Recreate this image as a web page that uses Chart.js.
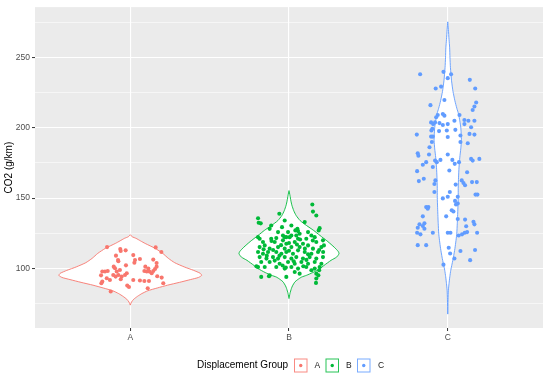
<!DOCTYPE html>
<html>
<head>
<meta charset="utf-8">
<script src="https://cdn.jsdelivr.net/npm/chart.js@4.4.1/dist/chart.umd.min.js"></script>
<style>
  html, body { margin: 0; padding: 0; background: #fff; }
  #wrap { width: 550px; height: 381px; }
</style>
</head>
<body>
<div id="wrap"><canvas id="chart" width="550" height="381"></canvas></div>
<script>
const groups = ["A", "B", "C"];
const groupColors = ["#F8766D", "#00BA38", "#619CFF"];
const yTicks = [75, 100, 125, 150, 175, 200, 225, 250, 275];

// jittered points: [offset from group centre, CO2 g/km]
const pointsA = [
  [-0.146,115.1],[-0.063,113.7],[-0.060,112.3],[-0.029,112.8],[0.160,114.9],[0.196,111.6],
  [-0.090,109.0],[-0.077,105.9],[-0.075,105.0],[0.019,109.4],[0.030,105.9],[0.026,104.0],
  [0.061,106.6],[0.145,106.2],[0.166,103.8],[-0.104,101.2],[-0.027,102.1],[0.095,101.2],
  [0.114,99.8],[0.156,99.5],[0.166,101.2],[-0.176,97.7],[-0.159,97.7],[-0.142,98.1],
  [-0.096,100.0],[-0.085,97.7],[-0.065,98.8],[-0.107,95.2],[-0.092,94.1],[-0.075,95.2],
  [-0.054,94.1],[-0.060,92.2],[-0.033,95.2],[-0.022,96.5],[-0.128,91.7],[-0.148,92.9],
  [-0.176,90.6],[-0.182,89.4],[0.019,91.7],[0.061,91.3],[0.089,91.0],[0.118,91.0],
  [0.089,98.1],[0.104,97.7],[0.120,97.7],[0.135,96.5],[0.145,98.1],[0.198,93.4],
  [0.208,89.4],[-0.019,87.7],[-0.008,86.7],[-0.123,83.5],[0.110,85.8],[0.170,94.3],
  [-0.184,95.0]
];
const pointsB = [
  [-0.195,135.7],[-0.191,132.4],[-0.178,132.0],[-0.061,138.8],[-0.027,134.0],[0.147,145.4],
  [0.151,140.4],[0.172,137.6],[0.099,132.9],[-0.112,130.5],[-0.122,128.1],[-0.044,129.3],
  [0.015,130.5],[0.053,128.1],[0.057,126.5],[0.040,127.0],[-0.006,125.8],[-0.069,125.8],
  [-0.038,123.4],[-0.017,122.2],[0.015,123.4],[0.046,123.4],[0.067,124.6],[0.120,125.8],
  [0.141,123.4],[0.193,128.6],[0.187,127.0],[-0.185,121.0],[-0.112,121.0],[-0.080,121.5],
  [-0.195,122.2],[-0.027,122.2],[0.004,122.2],[0.057,121.0],[0.109,121.0],[0.162,122.2],
  [-0.164,118.7],[-0.090,118.7],[-0.038,119.9],[-0.017,117.5],[0.036,118.7],[0.088,117.5],
  [0.172,118.7],[0.214,119.9],[-0.185,115.1],[-0.153,116.3],[-0.122,114.0],[-0.069,115.1],
  [-0.027,114.0],[0.015,115.1],[0.067,115.1],[0.120,116.3],[0.151,114.0],[0.204,115.1],
  [0.220,116.3],[-0.195,111.6],[-0.164,110.4],[-0.132,111.6],[-0.080,111.6],[-0.048,110.4],
  [-0.017,111.6],[0.025,110.4],[0.057,112.8],[0.099,111.6],[0.141,110.4],[0.183,111.6],
  [0.215,111.6],[-0.185,108.0],[-0.142,106.9],[-0.101,108.0],[-0.069,106.9],[-0.027,108.0],
  [0.015,106.9],[0.046,108.0],[0.088,106.9],[0.130,108.0],[0.172,106.9],[0.214,108.0],
  [-0.175,104.5],[-0.122,104.5],[-0.059,103.3],[-0.006,104.5],[0.036,103.3],[0.078,104.5],
  [0.120,103.3],[0.162,104.5],[0.204,103.3],[-0.195,100.9],[-0.153,100.9],[-0.080,100.9],
  [-0.027,99.8],[0.015,100.9],[0.057,99.8],[0.109,100.9],[0.162,99.8],[0.193,100.9],
  [0.036,97.4],[0.067,96.2],[0.141,98.6],[0.172,96.2],[-0.175,93.9],[-0.122,95.0],
  [-0.017,93.9],[0.172,92.7],[-0.126,94.3],[0.170,89.6],[0.185,95.0],[0.190,98.6],
  [-0.205,101.4],[-0.100,113.0],[-0.050,116.5],[0.000,112.5],[0.050,117.0],[0.100,114.0],
  [0.120,110.0],[-0.140,109.0],[-0.090,105.5],[0.030,105.0],[0.090,101.5],[-0.040,102.0],
  [0.000,118.0],[0.070,120.5],[-0.110,119.5],[0.150,119.8],[-0.060,109.0],[0.110,106.0],
  [-0.160,113.5],[0.190,113.0],[-0.020,100.5]
];
const pointsC = [
  [-0.174,238.2],[-0.027,239.9],[0.021,238.2],[0.000,235.4],[0.139,234.2],[-0.042,229.4],
  [-0.076,228.0],[0.173,228.0],[-0.021,219.8],[-0.109,216.2],[0.179,218.1],[0.168,215.2],
  [0.157,212.7],[-0.031,209.9],[-0.021,208.7],[-0.063,209.2],[-0.073,207.6],[0.074,209.2],
  [-0.105,203.9],[-0.092,202.7],[-0.080,203.9],[-0.052,203.4],[-0.031,202.0],[0.000,202.7],
  [0.042,205.1],[0.105,205.6],[0.130,205.1],[0.105,202.7],[0.168,205.1],[0.147,200.4],
  [-0.097,199.3],[-0.103,198.1],[-0.055,197.7],[-0.006,198.1],[0.048,198.6],[-0.195,195.2],
  [0.137,195.7],[0.168,195.2],[-0.105,193.8],[-0.094,193.8],[0.000,193.5],[0.080,194.6],
  [0.080,189.9],[0.126,189.0],[-0.100,189.9],[-0.115,186.2],[-0.189,181.9],[-0.185,180.2],
  [-0.118,181.0],[0.000,181.0],[-0.046,177.2],[0.029,177.2],[0.044,174.4],[0.147,177.9],
  [0.157,176.7],[0.199,177.9],[-0.157,173.7],[-0.136,175.6],[-0.094,172.1],[-0.069,175.6],
  [-0.080,176.7],[0.071,175.6],[0.010,169.6],[-0.193,169.2],[0.122,168.4],[-0.151,163.8],
  [-0.182,162.1],[-0.078,162.6],[-0.084,160.0],[0.088,162.6],[0.099,160.7],[0.109,159.1],
  [0.153,161.4],[0.183,161.4],[0.050,159.6],[-0.084,154.3],[0.013,154.3],[0.175,152.5],
  [0.187,152.5],[-0.031,149.8],[0.000,151.0],[0.063,151.0],[-0.136,143.6],[-0.122,143.6],
  [-0.126,142.5],[0.046,148.0],[0.063,146.2],[0.052,145.4],[0.025,141.3],[0.036,140.5],
  [-0.157,137.0],[-0.010,137.0],[0.063,135.1],[0.109,134.7],[0.116,130.0],[0.162,133.1],
  [0.168,131.3],[-0.178,131.3],[-0.157,130.1],[-0.147,132.0],[-0.189,128.9],[-0.193,125.3],
  [-0.172,124.2],[-0.147,128.2],[-0.094,125.3],[0.000,125.3],[0.017,125.3],[0.069,123.4],
  [0.090,124.2],[0.107,125.3],[0.122,125.8],[0.185,125.3],[-0.189,116.5],[-0.136,116.5],
  [0.006,114.6],[0.015,110.6],[0.080,112.3],[0.172,113.0],[0.042,107.0],[0.141,105.8],
  [-0.027,102.6]
];

// violin outlines: [CO2 g/km, half width in group units]
const violinA = [
  [73.8,0],[76,0.008],[78,0.022],[80,0.045],[82,0.073],[84,0.11],[86,0.17],[88,0.235],
  [90,0.31],[92,0.38],[93.5,0.43],[95,0.45],[96.5,0.44],[98.5,0.40],[101,0.34],[104,0.28],
  [107.1,0.24],[110.6,0.205],[114.2,0.157],[117.7,0.094],[119.5,0.065],[121.3,0.037],
  [122.5,0.012],[123.9,0]
];
const violinB = [
  [78.5,0],[82,0.006],[85.6,0.015],[87.5,0.022],[90.3,0.037],[92,0.055],[93.8,0.08],
  [95,0.11],[97,0.15],[99.8,0.195],[102,0.22],[105.7,0.265],[108,0.30],[110.4,0.315],
  [112,0.31],[115,0.285],[119,0.245],[123.4,0.195],[127,0.155],[130.5,0.11],[134,0.07],
  [137.6,0.045],[141,0.03],[145,0.018],[148,0.012],[152,0.006],[155.3,0]
];
const violinC = [
  [67.4,0],[78,0.002],[84.4,0.004],[89.1,0.008],[94,0.013],[98.6,0.019],[103,0.027],
  [108,0.036],[114,0.045],[119.9,0.052],[125,0.057],[131.7,0.060],[137,0.062],[143.5,0.064],
  [150.7,0.066],[157,0.066],[164.9,0.068],[172,0.071],[179.1,0.076],[185,0.082],[191,0.086],
  [195,0.085],[200.4,0.082],[205,0.076],[209.9,0.068],[214,0.057],[219.3,0.045],[226,0.033],
  [233.5,0.024],[242.9,0.017],[250,0.014],[257,0.012],[263,0.008],[270,0.004],[275.5,0]
];

const allPoints = [pointsA, pointsB, pointsC];
const allViolins = [violinA, violinB, violinC];

function violinOutline(profile, centre) {
  const right = profile.map(([y, w]) => ({ x: centre + w, y }));
  const left = profile.slice().reverse().map(([y, w]) => ({ x: centre - w, y }));
  return right.concat(left);
}

const FONT = '"Liberation Sans", Arial, sans-serif';
Chart.defaults.font.family = FONT;

const datasets = [];
groups.forEach((g, i) => {
  datasets.push({
    label: "violin " + g,
    data: violinOutline(allViolins[i], i + 1),
    showLine: true,
    borderColor: groupColors[i],
    borderWidth: 0.9,
    backgroundColor: "#ffffff",
    fill: "shape",
    tension: 0.2,
    pointRadius: 0,
    order: 2,
  });
});
groups.forEach((g, i) => {
  datasets.push({
    label: g,
    data: allPoints[i].map(([dx, y]) => ({ x: i + 1 + dx, y })),
    showLine: false,
    pointRadius: 2.05,
    pointBackgroundColor: groupColors[i],
    pointBorderWidth: 0,
    order: 0,
  });
});

const panelBackground = {
  id: "panelBackground",
  beforeDraw(chart) {
    const { ctx, chartArea } = chart;
    ctx.save();
    ctx.fillStyle = "#ffffff";
    ctx.fillRect(0, 0, chart.width, chart.height);
    ctx.fillStyle = "#EBEBEB";
    ctx.fillRect(chartArea.left, chartArea.top, chartArea.right - chartArea.left, chartArea.bottom - chartArea.top);
    ctx.restore();
  },
};

// ggplot-style legend: title on the left, keys in a row
const ggLegend = {
  id: "ggLegend",
  afterDraw(chart) {
    const ctx = chart.ctx;
    const y = 365.5;
    ctx.save();
    ctx.textBaseline = "middle";
    ctx.fillStyle = "#000000";
    ctx.font = "10px " + FONT;
    ctx.fillText("Displacement Group", 197, y);
    const boxX = [294, 325.5, 357];
    const labelX = [314.5, 346, 378];
    groups.forEach((g, i) => {
      ctx.strokeStyle = groupColors[i];
      ctx.globalAlpha = 0.85;
      ctx.lineWidth = 1;
      ctx.fillStyle = "#ffffff";
      ctx.fillRect(boxX[i], y - 6.5, 13, 13);
      ctx.strokeRect(boxX[i] + 0.5, y - 6.5, 12.5, 13);
      ctx.globalAlpha = 1;
      ctx.fillStyle = groupColors[i];
      ctx.beginPath();
      ctx.arc(boxX[i] + 6.75, y, 1.7, 0, Math.PI * 2);
      ctx.fill();
      ctx.fillStyle = "#1a1a1a";
      ctx.font = "8.5px " + FONT;
      ctx.fillText(g, labelX[i], y);
    });
    ctx.restore();
  },
};

new Chart(document.getElementById("chart"), {
  type: "scatter",
  data: { datasets },
  plugins: [panelBackground, ggLegend],
  options: {
    responsive: false,
    animation: false,
    layout: { padding: { left: 0, right: 7, top: 6, bottom: 35 } },
    plugins: {
      legend: { display: false },
      tooltip: { enabled: false },
    },
    scales: {
      x: {
        type: "linear",
        min: 0.4,
        max: 3.6,
        afterBuildTicks: (scale) => {
          scale.ticks = groups.map((g, i) => ({ value: i + 1 }));
        },
        afterFit: (scale) => { scale.height = 18; },
        ticks: {
          color: "#4D4D4D",
          font: { size: 8.5 },
          padding: 2,
          autoSkip: false,
          maxRotation: 0,
          callback: (v) => groups[v - 1],
        },
        grid: {
          color: "#ffffff",
          lineWidth: 1.1,
          drawTicks: true,
          tickLength: 3,
          tickColor: "#333333",
          tickWidth: 1,
        },
        border: { display: false },
      },
      y: {
        min: 57.5,
        max: 286,
        afterBuildTicks: (scale) => {
          scale.ticks = yTicks.map((v) => ({ value: v }));
        },
        afterFit: (scale) => { scale.width = 35; },
        ticks: {
          color: "#4D4D4D",
          font: { size: 8.5 },
          padding: 2,
          autoSkip: false,
          callback: (v) => (v % 50 === 0 ? v : ""),
        },
        grid: {
          color: "#ffffff",
          lineWidth: (c) => (c.tick && c.tick.value % 50 === 0 ? 1.1 : 0.55),
          drawTicks: true,
          tickLength: 3,
          tickColor: (c) => (c.tick && c.tick.value % 50 === 0 ? "#333333" : "rgba(0,0,0,0)"),
          tickWidth: 1,
        },
        border: { display: false },
        title: {
          display: true,
          text: "CO2 (g/km)",
          color: "#000000",
          font: { size: 10 },
          padding: { top: 3, bottom: 0 },
        },
      },
    },
  },
});
</script>
</body>
</html>
